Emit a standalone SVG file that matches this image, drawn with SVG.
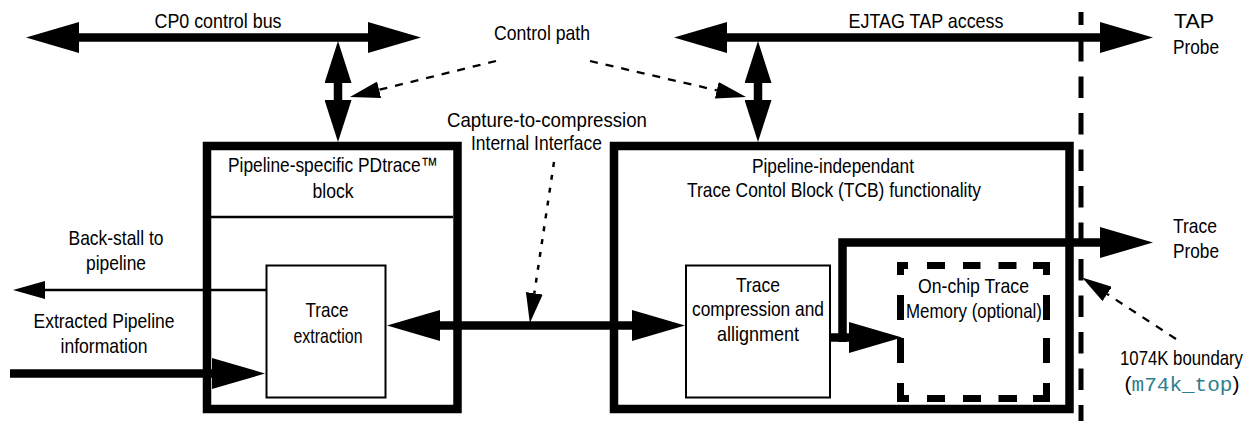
<svg xmlns="http://www.w3.org/2000/svg" width="1256" height="421" viewBox="0 0 1256 421">
<style>
  text { font-family: "Liberation Sans Narrow", "Liberation Sans", Arial, sans-serif; font-size: 21px; fill: #000; text-anchor: middle; }
  .mono { font-family: "Liberation Mono", "DejaVu Sans Mono", monospace; fill: #2e7f8e; }
  .thick { fill: none; stroke: #000; stroke-width: 8.5; stroke-linejoin: miter; }
  .box { fill: none; stroke: #000; stroke-width: 2; }
  .bigbox { fill: none; stroke: #000; stroke-width: 8.5; }
  .thin { fill: none; stroke: #000; stroke-width: 2.5; }
  .dash { fill: none; stroke: #000; stroke-width: 2.3; stroke-dasharray: 8 8; }
  .dots { fill: none; stroke: #000; stroke-width: 2.5; stroke-dasharray: 5 8; }
  .memdash { fill: none; stroke: #000; stroke-width: 7; }
  .boundary { fill: none; stroke: #000; stroke-width: 5; }
</style>
<defs>
  <marker id="big" viewBox="0 0 53 31" refX="0" refY="15.5" markerWidth="53" markerHeight="31" markerUnits="userSpaceOnUse" orient="auto-start-reverse">
    <path d="M0,0 L53,15.5 L0,31 Z" fill="#000"/>
  </marker>
  <marker id="mid" viewBox="0 0 42 27" refX="0" refY="13.5" markerWidth="42" markerHeight="27" markerUnits="userSpaceOnUse" orient="auto-start-reverse">
    <path d="M0,0 L42,13.5 L0,27 Z" fill="#000"/>
  </marker>
  <marker id="small" viewBox="0 0 32 18" refX="0" refY="9" markerWidth="32" markerHeight="18" markerUnits="userSpaceOnUse" orient="auto">
    <path d="M0,0 L32,9 L0,18 Z" fill="#000"/>
  </marker>
  <marker id="dhead" viewBox="0 0 30 17" refX="0" refY="8.5" markerWidth="30" markerHeight="17" markerUnits="userSpaceOnUse" orient="auto">
    <path d="M0,0 L30,8.5 L0,17 Z" fill="#000"/>
  </marker>
</defs>

<g id="boundary-line">
  <line class="boundary" x1="1081" y1="12" x2="1081" y2="25"/>
  <line class="boundary" x1="1081" y1="40" x2="1081" y2="421" stroke-dasharray="21.5 15"/>
</g>

<g id="pdtrace-block">
  <rect class="bigbox" x="207" y="146" width="250.5" height="263"/>
  <line class="thin" x1="211" y1="217" x2="453" y2="217"/>
  <text x="333" y="172" textLength="210" lengthAdjust="spacingAndGlyphs">Pipeline-specific PDtrace™</text>
  <text x="333" y="198" textLength="41" lengthAdjust="spacingAndGlyphs">block</text>
</g>

<g id="trace-extraction">
  <rect class="box" x="266.5" y="265.5" width="119" height="132"/>
  <text x="327" y="317" textLength="43" lengthAdjust="spacingAndGlyphs">Trace</text>
  <text x="328" y="343" textLength="69" lengthAdjust="spacingAndGlyphs">extraction</text>
</g>

<g id="tcb-block">
  <rect class="bigbox" x="614" y="146" width="455.5" height="263"/>
  <text x="833" y="173" textLength="162" lengthAdjust="spacingAndGlyphs">Pipeline-independant</text>
  <text x="834" y="197" textLength="294" lengthAdjust="spacingAndGlyphs">Trace Contol Block (TCB) functionality</text>
</g>

<g id="trace-compression">
  <rect class="box" x="686" y="265.5" width="144" height="132"/>
  <text x="758" y="292" textLength="44" lengthAdjust="spacingAndGlyphs">Trace</text>
  <text x="758" y="316" textLength="132" lengthAdjust="spacingAndGlyphs">compression and</text>
  <text x="758" y="341" textLength="82" lengthAdjust="spacingAndGlyphs">allignment</text>
</g>

<g id="trace-memory">
  <path class="memdash" d="M897,265.5H908 M927,265.5H945 M963,265.5H980.5 M998.5,265.5H1016.5 M1033,265.5H1050
    M897,398.5H909 M927,398.5H945 M963,398.5H981 M998.5,398.5H1017 M1033,398.5H1050
    M900.5,262V275 M900.5,295V320 M900.5,338V363 M900.5,383V402
    M1046.5,262V275 M1046.5,295V320 M1046.5,338V363 M1046.5,383V402"/>
  <text x="973.5" y="293" textLength="111" lengthAdjust="spacingAndGlyphs">On-chip Trace</text>
  <text x="974" y="318" textLength="136" lengthAdjust="spacingAndGlyphs">Memory (optional)</text>
</g>

<g id="connectors">
  <path class="thick" d="M79,37.5 H368" marker-start="url(#big)" marker-end="url(#big)"/>
  <path class="thick" d="M727,37.5 H1100" marker-start="url(#big)" marker-end="url(#big)"/>
  <path class="thick" d="M338,83 V100" marker-start="url(#mid)" marker-end="url(#mid)"/>
  <path class="thick" d="M758,83 V100" marker-start="url(#mid)" marker-end="url(#mid)"/>
  <path class="thick" d="M440,325.5 H632" marker-start="url(#big)" marker-end="url(#big)"/>
  <path class="thick" d="M10,373.5 H212" marker-end="url(#big)"/>
  <path class="thin" d="M266,290 H45" marker-end="url(#small)"/>
  <path class="thick" d="M830,337.5 H849" marker-end="url(#big)"/>
  <path class="thick" d="M842.5,342 V242.5 H1100" marker-end="url(#big)"/>
  <path class="dash" d="M496,61 L379.1,89.8" marker-end="url(#dhead)"/>
  <path class="dash" d="M590,61 L716.8,90.3" marker-end="url(#dhead)"/>
  <path class="dots" d="M554,162 L534.3,293.3" marker-end="url(#dhead)"/>
  <path class="dash" d="M1176,339 L1107.2,294" stroke-dasharray="7 8" marker-end="url(#dhead)"/>
</g>

<g id="labels">
  <text x="218" y="28" textLength="127" lengthAdjust="spacingAndGlyphs">CP0 control bus</text>
  <text x="542" y="40" textLength="96" lengthAdjust="spacingAndGlyphs">Control path</text>
  <text x="547" y="127" textLength="200" lengthAdjust="spacingAndGlyphs">Capture-to-compression</text>
  <text x="536.5" y="150" textLength="131" lengthAdjust="spacingAndGlyphs">Internal Interface</text>
  <text x="926" y="28" textLength="155" lengthAdjust="spacingAndGlyphs">EJTAG TAP access</text>
  <text x="1194" y="28" textLength="40" lengthAdjust="spacingAndGlyphs">TAP</text>
  <text x="1196" y="54" textLength="46" lengthAdjust="spacingAndGlyphs">Probe</text>
  <text x="116" y="245" textLength="95" lengthAdjust="spacingAndGlyphs">Back-stall to</text>
  <text x="116" y="270" textLength="60" lengthAdjust="spacingAndGlyphs">pipeline</text>
  <text x="104" y="328" textLength="141" lengthAdjust="spacingAndGlyphs">Extracted Pipeline</text>
  <text x="104" y="353" textLength="87" lengthAdjust="spacingAndGlyphs">information</text>
  <text x="1195" y="233" textLength="44" lengthAdjust="spacingAndGlyphs">Trace</text>
  <text x="1196" y="258" textLength="46" lengthAdjust="spacingAndGlyphs">Probe</text>
  <text x="1181.5" y="365" font-size="19.5" textLength="123" lengthAdjust="spacingAndGlyphs">1074K boundary</text>
  <text x="1182" y="391">(<tspan class="mono">m74k_top</tspan>)</text>
</g>
</svg>
